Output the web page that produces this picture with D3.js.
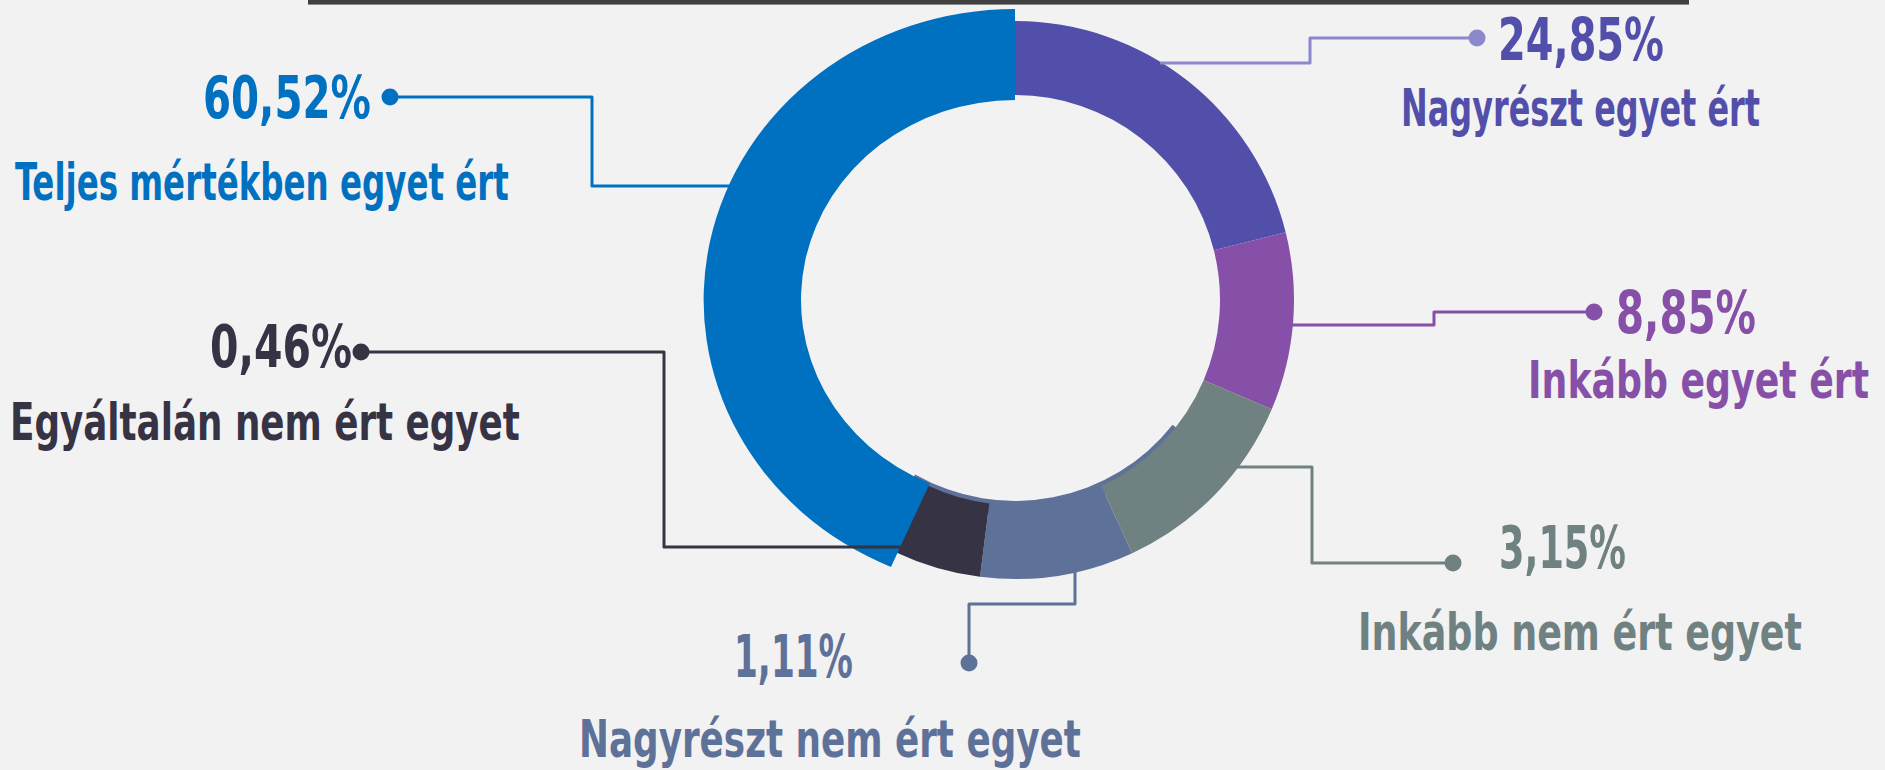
<!DOCTYPE html>
<html>
<head>
<meta charset="utf-8">
<script src="https://cdn.jsdelivr.net/npm/d3@7"></script>
<style>
  body { margin: 0; background: #f2f2f2; }
  svg { display: block; }
  .lbl { font-family: "Liberation Sans Narrow", "DejaVu Sans Condensed", Roboto, sans-serif; font-weight: bold; }
</style>
</head>
<body>
<div class="container"></div>
<script>
const width = 1885,
    height = 770;

// answers, in the order of the original survey scale
const categories = ["Teljes mértékben egyet ért", "Nagyrészt egyet ért", "Inkább egyet ért",
                    "Inkább nem ért egyet", "Nagyrészt nem ért egyet", "Egyáltalán nem ért egyet"];
const percentages = [60.52, 24.85, 8.85, 3.15, 1.11, 0.46];
// the original graphic does not draw slices in proportion: share of the ring each one takes there
const drawnShares = [43.0, 21.1, 10.3, 11.7, 8.9, 5.0];

const sliceColors = ["#0070c0", "#524fab", "#8750a8", "#6f8181", "#5e7198", "#363345"];
const textColors  = ["#0070c0", "#524fab", "#8750a8", "#6f8181", "#5e7198", "#363345"];
const lineColors  = ["#0070c0", "#8c88cc", "#8750a8", "#6f8181", "#5e7198", "#363345"];

const cx = 1015, cy = 300;
const innerR = 205, outerR = 279;
const blueInner = 200, blueOuter = 291, blueStretch = 1.07;

// where each label and its leader sit (layout only): [x, baseline, width, anchor]
const labelLayout = [
  { pct: [203, 118, 168, "start"], cat: [15, 200, 494, "start"], dot: [390, 97], elbow: [[592, 97], [592, 186]], ring: { side: "left", y: 186 } },
  { pct: [1664, 60, 166, "end"], cat: [1760, 126, 359, "end"], dot: [1477, 38], elbow: [[1310, 38], [1310, 63]], ring: { side: "right", y: 63 } },
  { pct: [1756, 333, 140, "end"], cat: [1869, 398, 341, "end"], dot: [1594, 312], elbow: [[1434, 312], [1434, 325]], ring: { side: "right", y: 325 } },
  { pct: [1626, 568, 127, "end"], cat: [1802, 650, 444, "end"], dot: [1453, 563], elbow: [[1312, 563], [1312, 467]], ring: { side: "right", y: 467 } },
  { pct: [734, 677, 119, "start"], cat: [579, 757, 502, "start"], dot: [969, 663], elbow: [[969, 604], [1075, 604]], ring: { side: "bottom", x: 1075 } },
  { pct: [210, 367, 142, "start"], cat: [10, 440, 510, "start"], dot: [361, 352], elbow: [[664, 352], [664, 547]], ring: { side: "inside", x: 905, y: 547 } }
];

const huFormat = d3.formatLocale({ decimal: ",", thousands: " ", grouping: [3], currency: ["", " Ft"] }).format(".2f");

const svg = d3.select(".container")
  .append("svg")
  .attr("width", width)
  .attr("height", height);

svg.append("rect")
  .attr("width", width)
  .attr("height", height)
  .attr("fill", "#f2f2f2");

// rule left over from the title block above
svg.append("rect").attr("x", 308).attr("y", 0).attr("width", 1381).attr("height", 4).attr("fill", "#404040");
svg.append("rect").attr("x", 308).attr("y", 4).attr("width", 1381).attr("height", 1).attr("fill", "#8a8a8a");

const total = d3.sum(drawnShares);
const blueAngle = 2 * Math.PI * drawnShares[0] / total;

const pie = d3.pie()
  .sort(null)
  .value((d, i) => drawnShares[i])
  .startAngle(-blueAngle)
  .endAngle(2 * Math.PI - blueAngle);

const arcs = pie(categories);

const arc = d3.arc()
  .innerRadius((d) => d.index === 0 ? blueInner : innerR)
  .outerRadius((d) => d.index === 0 ? blueOuter : outerR)
  // the stretched blue slice needs a little more angle to stay closed against the dark one
  .startAngle((d) => d.index === 0 ? d.startAngle - 0.03 : d.startAngle);

const ring = svg.append("g").attr("transform", `translate(${cx},${cy})`);

// thin slate band that peeks out along the inner edge at the bottom
ring.append("path")
  .attr("d", d3.arc()({
    innerRadius: innerR - 4, outerRadius: innerR + 10,
    startAngle: (arcs[3].startAngle + arcs[3].endAngle) / 2 - 0.1,
    endAngle: arcs[5].endAngle + 0.08
  }))
  .attr("fill", sliceColors[4]);

// blue is drawn last so its edge lies over the dark slice, as in the original
const order = [1, 2, 3, 4, 5, 0];
ring.selectAll("path.slice")
  .data(order.map((i) => arcs[i]))
  .enter()
  .append("path")
  .attr("class", "slice")
  .attr("d", arc)
  .attr("transform", (d) => d.index === 0 ? `scale(${blueStretch},1)` : null)
  .attr("fill", (d) => sliceColors[d.index]);

const ringPoint = (r) => {
  if (r.side === "left") return [cx - blueStretch * Math.sqrt(blueOuter * blueOuter - (r.y - cy) ** 2) + 4, r.y];
  if (r.side === "right") return [cx + Math.sqrt(outerR * outerR - (r.y - cy) ** 2) - 2, r.y];
  if (r.side === "bottom") return [r.x, cy + Math.sqrt(outerR * outerR - (r.x - cx) ** 2) - 2];
  return [r.x, r.y];
};

const line = d3.line();

const leaders = svg.append("g");
leaders.selectAll("path")
  .data(labelLayout)
  .enter()
  .append("path")
  .attr("d", (d) => line([d.dot, ...d.elbow, ringPoint(d.ring)]))
  .attr("fill", "none")
  .attr("stroke", (d, i) => lineColors[i])
  .attr("stroke-width", 3)
  .attr("stroke-linejoin", "round");

leaders.selectAll("circle")
  .data(labelLayout)
  .enter()
  .append("circle")
  .attr("cx", (d) => d.dot[0])
  .attr("cy", (d) => d.dot[1])
  .attr("r", 8.5)
  .attr("fill", (d, i) => lineColors[i]);

// condensed look: squeeze each label to the width it has in the original
const fitWidth = (sel, key) => {
  sel.each(function (d, i) {
    const [x, y, w, anchor] = labelLayout[i][key];
    const natural = this.getComputedTextLength();
    d3.select(this)
      .attr("text-anchor", anchor)
      .attr("transform", `translate(${x},${y}) scale(${w / natural},1)`);
  });
};

const labels = svg.append("g");

labels.selectAll("text.pct")
  .data(percentages)
  .enter()
  .append("text")
  .attr("class", "lbl pct")
  .attr("font-size", 58)
  .attr("fill", (d, i) => textColors[i])
  .text((d) => huFormat(d) + "%")
  .call(fitWidth, "pct");

labels.selectAll("text.cat")
  .data(categories)
  .enter()
  .append("text")
  .attr("class", "lbl cat")
  .attr("font-size", 51)
  .attr("fill", (d, i) => textColors[i])
  .text((d) => d)
  .call(fitWidth, "cat");
</script>
</body>
</html>
